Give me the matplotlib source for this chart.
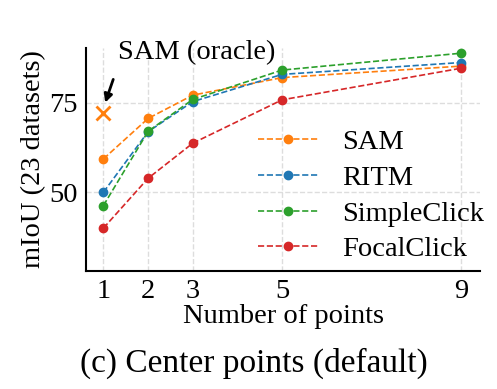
import matplotlib
matplotlib.use("Agg")
import matplotlib.pyplot as plt

plt.rcParams['font.family'] = ['Liberation Serif', 'DejaVu Serif']

points = [1, 2, 3, 5, 9]
sam = [59.3, 70.6, 77.1, 82.0, 85.2]
ritm = [50.0, 66.9, 75.3, 82.9, 86.2]
simpleclick = [46.3, 67.0, 75.9, 84.1, 88.8]
focalclick = [40.0, 53.9, 63.7, 75.8, 84.6]
sam_oracle = 72.0
yticks = [50, 75]

fig = plt.figure(figsize=(4.97, 3.89), dpi=100)
ax = fig.add_axes([0.173, 0.303, 0.793, 0.574])

series = [("SAM", sam, "tab:orange"), ("RITM", ritm, "tab:blue"),
          ("SimpleClick", simpleclick, "tab:green"), ("FocalClick", focalclick, "tab:red")]
for name, vals, c in series:
    ax.plot(points, vals, linestyle='--', marker='o', color=c, markersize=6,
            linewidth=1.2, label=name)

ax.plot([1], [sam_oracle], marker='x', color='tab:orange', markersize=10,
        markeredgewidth=2, linestyle='none')
ax.text(1.33, 89.1, "SAM (oracle)", fontsize=20.5, ha='left', va='center')
ax.annotate("", xy=(1.04, 75.0), xytext=(1.22, 81.5),
            arrowprops=dict(arrowstyle='-|>', color='black', lw=2, mutation_scale=12,
                            shrinkA=0, shrinkB=0))

ax.set_xlim(0.61, 9.43)
ax.set_ylim(28, 90.3)
ax.set_xticks(points)
ax.set_yticks(yticks)
ax.tick_params(labelsize=20.5, length=0, pad=6)
ax.grid(True, linestyle='--', color='#dddddd', linewidth=1)
for s in ['top', 'right']:
    ax.spines[s].set_visible(False)
for s in ['left', 'bottom']:
    ax.spines[s].set_linewidth(1.5)
ax.set_xlabel("Number of points", fontsize=20.5, labelpad=0)
ax.set_ylabel("mIoU (23 datasets)", fontsize=20.5, labelpad=2)
leg = ax.legend(loc='lower right', bbox_to_anchor=(1.075, -0.075), frameon=False, fontsize=20.5,
                handlelength=2.1, labelspacing=0.34, handletextpad=0.85)
fig.text(0.51, 0.065, "(c) Center points (default)", ha='center', va='center', fontsize=24)

fig.savefig("out.png", dpi=100)
